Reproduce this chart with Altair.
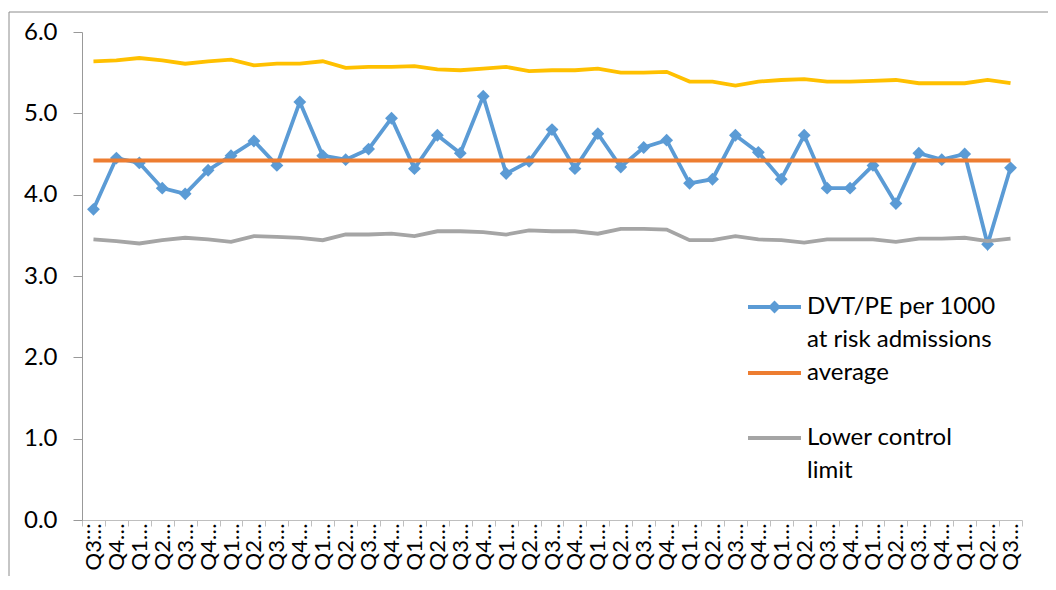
import altair as alt
import pandas as pd

quarters = ["Q3", "Q4", "Q1", "Q2"] * 10 + ["Q3"]

dvt_pe = [3.82, 4.45, 4.39, 4.08, 4.01, 4.30, 4.48, 4.66, 4.36, 5.14,
          4.48, 4.43, 4.56, 4.94, 4.32, 4.73, 4.51, 5.21, 4.26, 4.41,
          4.80, 4.32, 4.75, 4.34, 4.58, 4.67, 4.14, 4.19, 4.73, 4.52,
          4.19, 4.73, 4.08, 4.08, 4.36, 3.89, 4.51, 4.43, 4.50, 3.39, 4.33]

upper_limit = [5.64, 5.65, 5.68, 5.65, 5.61, 5.64, 5.66, 5.59, 5.61, 5.61,
               5.64, 5.56, 5.57, 5.57, 5.58, 5.54, 5.53, 5.55, 5.57, 5.52,
               5.53, 5.53, 5.55, 5.50, 5.50, 5.51, 5.39, 5.39, 5.34, 5.39,
               5.41, 5.42, 5.39, 5.39, 5.40, 5.41, 5.37, 5.37, 5.37, 5.41, 5.37]

lower_limit = [3.45, 3.43, 3.40, 3.44, 3.47, 3.45, 3.42, 3.49, 3.48, 3.47,
               3.44, 3.51, 3.51, 3.52, 3.49, 3.55, 3.55, 3.54, 3.51, 3.56,
               3.55, 3.55, 3.52, 3.58, 3.58, 3.57, 3.44, 3.44, 3.49, 3.45,
               3.44, 3.41, 3.45, 3.45, 3.45, 3.42, 3.46, 3.46, 3.47, 3.43, 3.46]

average_value = 4.42

legend_labels = ["DVT/PE per 1000\nat risk admissions", "average", "Lower control\nlimit"]

BLUE = "#5B9BD5"
ORANGE = "#ED7D31"
GREY = "#A5A5A5"
YELLOW = "#FFC000"
FONT = "Lato"
LW = 3.8

# unique period keys: quarter name + running number (only the quarter is shown)
periods = [f"{q} #{i:02d}" for i, q in enumerate(quarters)]

df = pd.DataFrame({
    "period": periods,
    "dvt": dvt_pe,
    "ucl": upper_limit,
    "lcl": lower_limit,
})
df["avg"] = average_value

x_enc = alt.X(
    "period:N",
    sort=periods,
    bandPosition=0.5,
    scale=alt.Scale(type="band", paddingInner=0, paddingOuter=0),
    axis=alt.Axis(
        title=None,
        labelAngle=-90,
        labelAlign="right",
        labelBaseline="middle",
        labelExpr="slice(datum.label, 0, 2) + '\u2026'",
        labelFont=FONT,
        labelFontSize=22,
        labelColor="#000000",
        labelPadding=-3,
        tickBand="extent",
        tickSize=6,
        tickColor="#BFBFBF",
        domainColor="#BFBFBF",
        grid=False,
        labelOverlap=False,
    ),
)

y_scale = alt.Scale(domain=[0, 6], nice=False, zero=True)
y_axis = alt.Axis(
    title=None,
    values=[0, 1, 2, 3, 4, 5, 6],
    format=".1f",
    labelFont=FONT,
    labelFontSize=24,
    labelColor="#000000",
    labelPadding=16,
    tickSize=9,
    tickColor="#999999",
    domainColor="#999999",
    grid=False,
)

base = alt.Chart(df)

dvt_line = base.mark_line(color=BLUE, strokeWidth=LW).encode(
    x=x_enc, y=alt.Y("dvt:Q", scale=y_scale, axis=y_axis)
)
dvt_points = base.mark_point(shape="diamond", filled=True, size=165, color=BLUE, opacity=1).encode(
    x=x_enc, y=alt.Y("dvt:Q", scale=y_scale)
)
avg_line = base.mark_line(color=ORANGE, strokeWidth=LW).encode(
    x=x_enc, y=alt.Y("avg:Q", scale=y_scale)
)
ucl_line = base.mark_line(color=YELLOW, strokeWidth=LW).encode(
    x=x_enc, y=alt.Y("ucl:Q", scale=y_scale)
)
lcl_line = base.mark_line(color=GREY, strokeWidth=LW).encode(
    x=x_enc, y=alt.Y("lcl:Q", scale=y_scale)
)

# manual legend (plot-area pixel offsets)
one = alt.Chart(pd.DataFrame({"k": [0]}))
LX1, LX2, TX = 666, 719, 725
rows_y = [275, 341, 406]
legend_colors = [BLUE, ORANGE, GREY]
legend_layers = []
for lab, col, yy in zip(legend_labels, legend_colors, rows_y):
    legend_layers.append(
        one.mark_rule(color=col, strokeWidth=LW).encode(
            x=alt.value(LX1), x2=alt.value(LX2), y=alt.value(yy)
        )
    )
    legend_layers.append(
        one.mark_text(
            align="left", baseline="middle", font=FONT, fontSize=24,
            color="#000000", lineBreak="\n", lineHeight=33,
        ).encode(x=alt.value(TX), y=alt.value(yy), text=alt.value(lab))
    )
legend_layers.append(
    one.mark_point(shape="diamond", filled=True, size=165, color=BLUE, opacity=1).encode(
        x=alt.value((LX1 + LX2) / 2), y=alt.value(rows_y[0])
    )
)

# chart-area frame: only the top and left edges fall inside the picture
frame_top = one.mark_rule(color="#8C8C8C", strokeWidth=1).encode(
    x=alt.value(-73), x2=alt.value(1000), y=alt.value(-20)
)
frame_left = one.mark_rule(color="#8C8C8C", strokeWidth=1).encode(
    x=alt.value(-73), y=alt.value(-20), y2=alt.value(600)
)

chart = alt.layer(
    frame_top, frame_left, dvt_line, dvt_points, avg_line, ucl_line, lcl_line, *legend_layers
).properties(
    width=940,
    height=488,
    background="white",
    autosize=alt.AutoSizeParams(type="none"),
    padding={"left": 74, "top": 24, "right": 26, "bottom": 56},
).configure_view(strokeWidth=0, stroke="transparent")

chart.save("out.html", embed_options={"renderer": "svg", "actions": False})
